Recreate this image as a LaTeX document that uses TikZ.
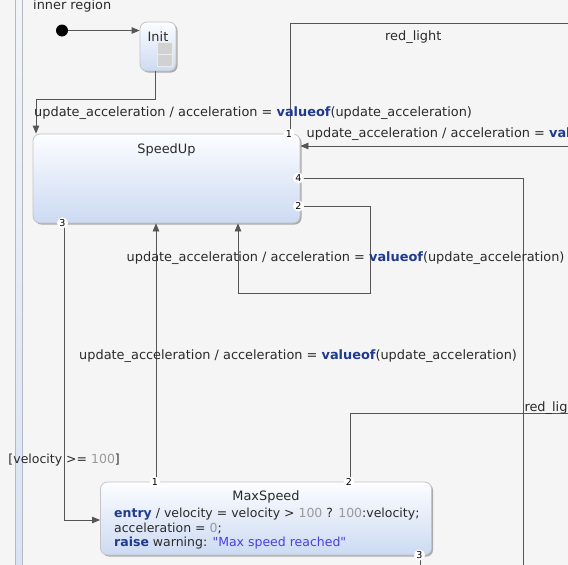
\documentclass[tikz,border=0pt]{standalone}
\usepackage{fontspec}
\setmainfont{DejaVu Sans}
\usetikzlibrary{arrows.meta,shadows}

\definecolor{canvasbg}{HTML}{F5F5F5}
\definecolor{edgecol}{HTML}{555555}
\definecolor{kwcol}{HTML}{1F3A8F}
\definecolor{numcol}{HTML}{9A9A9A}
\definecolor{strcol}{HTML}{4A3FE6}
\definecolor{sttop}{HTML}{FCFDFF}
\definecolor{stbot}{HTML}{CCDAF2}
\definecolor{stborder}{HTML}{C4C4C4}
\definecolor{txtcol}{HTML}{2A2A2A}
\definecolor{bartop}{HTML}{F2F4F8}
\definecolor{barbot}{HTML}{D8E3F4}
\definecolor{barline}{HTML}{B4BAC4}

\newcommand{\kwd}[1]{\textbf{\color{kwcol}#1}}
\newcommand{\numv}[1]{{\color{numcol}#1}}
\newcommand{\strv}[1]{{\color{strcol}#1}}

\tikzset{
  statebox/.style={rectangle, rounded corners=7pt, draw=stborder, line width=0.8pt,
    top color=sttop, bottom color=stbot, inner sep=0pt,
    drop shadow={shadow xshift=1.6pt, shadow yshift=-1.6pt, opacity=0.3, fill=black}},
  edge/.style={draw=edgecol, line width=0.8pt},
  arr/.style={edge, -{Triangle[length=8pt,width=6.5pt]}},
  port/.style={circle, fill=white, inner sep=0.6pt, text=black,
    font=\fontsize{9.5}{10}\selectfont},
  lbl/.style={anchor=base west, inner sep=0pt, text=txtcol},
  body/.style={lbl, font=\fontsize{12.5}{14.5}\selectfont},
  title/.style={anchor=base, inner sep=0pt, text=txtcol},
  compartment/.style={draw=white!85!gray, fill=black!18, minimum width=15pt,
    minimum height=12pt, inner sep=0pt},
}

\begin{document}
\begin{tikzpicture}[x=1pt, y=-1pt, font=\fontsize{12.9}{14.5}\selectfont]
\useasboundingbox (0,0) rectangle (568,565);
\clip (0,0) rectangle (568,565);
\fill[canvasbg] (0,0) rectangle (568,565);

% region separator bar
\shade[top color=bartop, bottom color=barbot] (15,0) rectangle (22,565);
\draw[barline, line width=0.7pt] (15,0) -- (15,565) (22,0) -- (22,565);

\node[lbl] (regionname) at (33,9) {inner region};

% states
\node[statebox, minimum width=36pt, minimum height=49pt] (init) at (158,46.5) {};
\node[title] (inittitle) at (158,41) {Init};
\node[compartment] (cmpa) at (164.5,48.5) {};
\node[compartment] (cmpb) at (164.5,60.5) {};

\node[statebox, minimum width=267pt, minimum height=89pt] (speedup) at (166.5,178.5) {};
\node[title] (speeduptitle) at (166.5,153) {SpeedUp};

\node[statebox, minimum width=331pt, minimum height=73pt] (maxspeed) at (266,518.5) {};
\node[title] (maxspeedtitle) at (266,500) {MaxSpeed};
\node[body] (entryline) at (114,517.7)
  {\kwd{entry} / velocity = velocity > \numv{100} ? \numv{100}:velocity;};
\node[body] (accline) at (114,532)
  {acceleration = \numv{0};};
\node[body] (raiseline) at (114,546.6)
  {\kwd{raise} warning: \strv{\textquotedbl Max speed reached\textquotedbl}};

% initial pseudo state
\node[circle, fill=black, minimum size=12pt, inner sep=0pt] (start) at (62,30.5) {};

% free ends of transitions leaving the visible area
\coordinate (outA) at (570,23);
\coordinate (inB) at (570,146);
\coordinate (outC) at (523,570);
\coordinate (outD) at (570,413.5);
\coordinate (outE) at (420,570);

% transitions
\draw[arr] (start) -- (start -| init.west);
\draw[arr] ([xshift=-3pt]init.south) |- (36,99) -- (36,0 |- speedup.north);
\draw[edge] (290,0 |- speedup.north) |- (outA);
\draw[arr] (inB) -- (inB -| speedup.east);
\draw[edge] (speedup.east |- 0,178) -| (outC);
\draw[arr] (speedup.east |- 0,206) -| (370,293) -| (238,0 |- speedup.south);
\draw[arr] (64,0 |- speedup.south) |- (maxspeed.west |- 0,520);
\draw[arr] (156,0 |- maxspeed.north) -- (156,0 |- speedup.south);
\draw[edge] (350,0 |- maxspeed.north) |- (outD);
\draw[edge] (420,0 |- maxspeed.south) -- (outE);

% transition labels
\node[lbl] (t1) at (34,116) {update\_acceleration / acceleration = \kwd{valueof}(update\_acceleration)};
\node[lbl] (t2) at (385,40) {red\_light};
\node[lbl] (t3) at (306.5,137.5) {update\_acceleration / acceleration = \kwd{valueof}(update\_acceleration)};
\node[lbl] (t4) at (126.5,261.7) {update\_acceleration / acceleration = \kwd{valueof}(update\_acceleration)};
\node[lbl] (t5) at (79,359.3) {update\_acceleration / acceleration = \kwd{valueof}(update\_acceleration)};
\node[body] (t6) at (8.3,463.3) {[velocity >= \numv{100}]};
\node[lbl] (t7) at (524.3,411) {red\_light};

% transition priorities
\node[port] (p1) at (289,134) {1};
\node[port] (p4) at (298.5,178) {4};
\node[port] (p2) at (298.5,206) {2};
\node[port] (p3) at (62.5,223) {3};
\node[port] (q1) at (155,482) {1};
\node[port] (q2) at (349,482) {2};
\node[port] (q3) at (419.5,555) {3};
\end{tikzpicture}
\end{document}
